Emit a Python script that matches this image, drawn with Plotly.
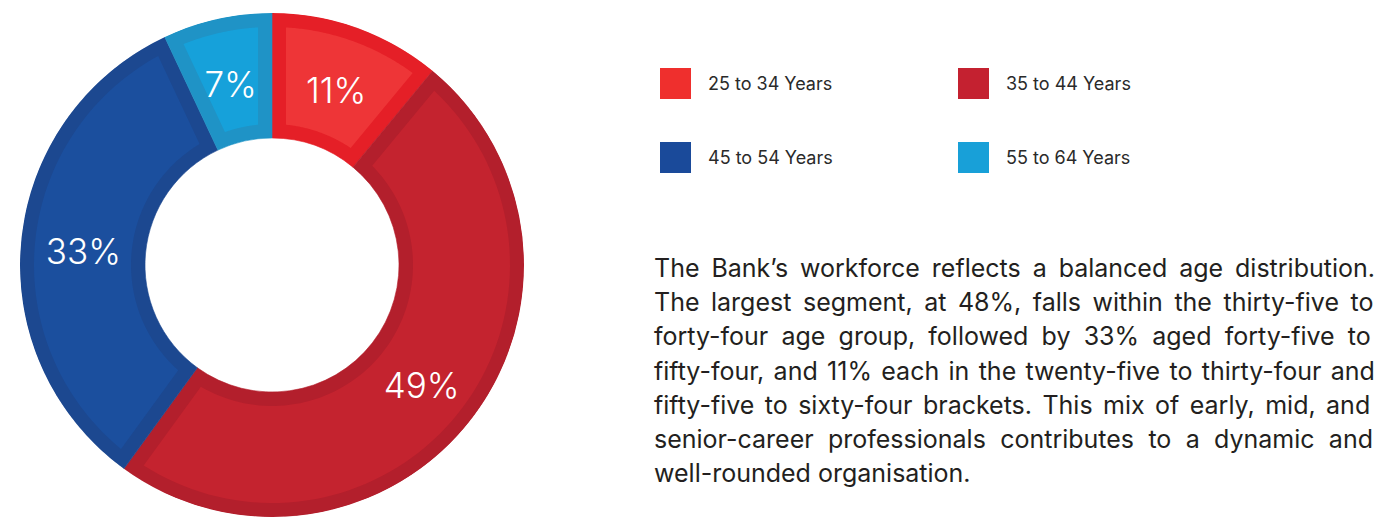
import numpy as np
import plotly.graph_objects as go

# Workforce age distribution
groups = ["25 to 34 Years", "35 to 44 Years", "45 to 54 Years", "55 to 64 Years"]
shares = [11, 49, 33, 7]
share_labels = ["11%", "49%", "33%", "7%"]

fill_colors = ["#ee3537", "#c4232f", "#1b4f9e", "#16a1da"]
edge_colors = ["#e51f27", "#b31f2c", "#1c4890", "#1f93c6"]
swatch_colors = ["#ef2f2d", "#c42130", "#1a4a9a", "#18a0d8"]

paragraph_lines = [
    "The Bank\u2019s workforce reflects a balanced age distribution.",
    "The largest segment, at 48%, falls within the thirty-five to",
    "forty-four age group, followed by 33% aged forty-five to",
    "fifty-four, and 11% each in the twenty-five to thirty-four and",
    "fifty-five to sixty-four brackets. This mix of early, mid, and",
    "senior-career professionals contributes to a dynamic and",
    "well-rounded organisation.",
]
# extra word spacing (px) used to justify each line
line_word_spacing = [4.9, 4.5, 6.15, 2.3, 3.4, 7.3, 0]

# ring geometry (radial axis in pixels)
OUTER = 252
INNER = 127
BAND = 14
LABEL_DROP = 8   # labels sit slightly below the ring's mid-line

W, H = 1376, 518
cx, cy = 272, 265

shares_arr = np.array(shares, dtype=float)
ends = np.cumsum(shares_arr) * 3.6
starts = ends - shares_arr * 3.6
mids = (starts + ends) / 2

fig = go.Figure()

# full ring segments in the darker edge colour
fig.add_trace(go.Barpolar(
    r=[OUTER - INNER] * len(shares),
    base=[INNER] * len(shares),
    theta=mids,
    width=shares_arr * 3.6,
    marker=dict(color=edge_colors, line=dict(width=0.6, color=edge_colors)),
    hoverinfo="skip",
    subplot="polar",
))

# lighter inner panel of each segment, inset by a constant band
rho_o = OUTER - BAND
rho_i = INNER + BAND
for a0, a1, col in zip(starts, ends, fill_colors):
    do = np.degrees(np.arcsin(BAND / rho_o))
    di = np.degrees(np.arcsin(BAND / rho_i))
    outer_t = np.linspace(a0 + do, a1 - do, 80)
    inner_t = np.linspace(a1 - di, a0 + di, 80)
    theta = np.concatenate([outer_t, inner_t, outer_t[:1]])
    r = np.concatenate([np.full(80, rho_o), np.full(80, rho_i), [rho_o]])
    fig.add_trace(go.Scatterpolar(
        r=r, theta=theta, mode="lines", fill="toself",
        fillcolor=col, line=dict(width=0, color=col),
        hoverinfo="skip", subplot="polar",
    ))

# percentage labels (on a second, slightly lowered polar frame with the same scale)
fig.add_trace(go.Scatterpolar(
    r=[(OUTER + INNER) / 2] * len(shares),
    theta=mids,
    mode="text",
    text=share_labels,
    textfont=dict(family="Inter", size=35, weight=300, color="white"),
    hoverinfo="skip",
    subplot="polar2",
))

# legend swatches on a pixel-space overlay
sw_x0, sw_y0, col_gap, row_gap = 675.5, 83.5, 298, 74
sw_x = [sw_x0 + (i % 2) * col_gap for i in range(len(groups))]
sw_y = [sw_y0 + (i // 2) * row_gap for i in range(len(groups))]
fig.add_trace(go.Scatter(
    x=sw_x, y=sw_y, mode="markers",
    marker=dict(symbol="square", size=31, color=swatch_colors, line=dict(width=0)),
    hoverinfo="skip", xaxis="x", yaxis="y",
))

annotations = []
for g, x, y in zip(groups, sw_x, sw_y):
    annotations.append(dict(
        x=x + 30.5, y=y, xref="x", yref="y", text=g, showarrow=False,
        xanchor="left", yanchor="middle",
        font=dict(family="Inter", size=18, color="#2a2a2a"),
    ))

for i, (line, ws) in enumerate(zip(paragraph_lines, line_word_spacing)):
    txt = line if ws == 0 else f'<span style="word-spacing:{ws}px">{line}</span>'
    annotations.append(dict(
        x=652, y=268 + i * 34.2, xref="x", yref="y", text=txt, showarrow=False,
        xanchor="left", yanchor="middle",
        font=dict(family="Inter", size=25, color="#231f20"),
    ))

hidden_angular = dict(rotation=90, direction="clockwise", visible=False,
                      showgrid=False, showline=False, showticklabels=False, ticks="")

label_r = OUTER - LABEL_DROP
fig.update_layout(
    width=W, height=H,
    margin=dict(l=0, r=0, t=0, b=0),
    paper_bgcolor="white",
    plot_bgcolor="rgba(0,0,0,0)",
    showlegend=False,
    polar=dict(
        domain=dict(x=[(cx - OUTER) / W, (cx + OUTER) / W],
                    y=[(H - cy - OUTER) / H, (H - cy + OUTER) / H]),
        bgcolor="rgba(0,0,0,0)",
        radialaxis=dict(range=[0, OUTER], visible=False, showgrid=False),
        angularaxis=hidden_angular,
        bargap=0,
    ),
    polar2=dict(
        domain=dict(x=[(cx - label_r) / W, (cx + label_r) / W],
                    y=[(H - cy - LABEL_DROP - label_r) / H, (H - cy - LABEL_DROP + label_r) / H]),
        bgcolor="rgba(0,0,0,0)",
        radialaxis=dict(range=[0, label_r], visible=False, showgrid=False),
        angularaxis=hidden_angular,
    ),
    xaxis=dict(range=[0, W], domain=[0, 1], visible=False, fixedrange=True),
    yaxis=dict(range=[H, 0], domain=[0, 1], visible=False, fixedrange=True),
    annotations=annotations,
)

fig.write_html("out.html")
